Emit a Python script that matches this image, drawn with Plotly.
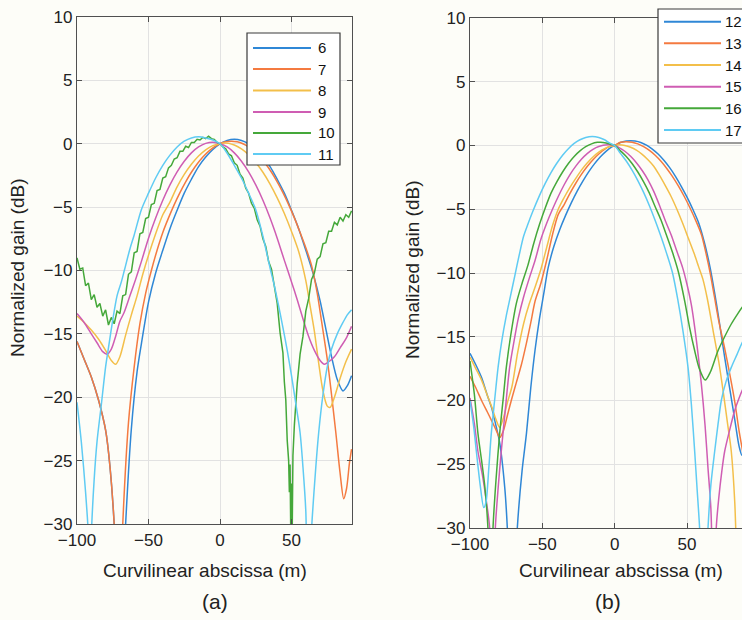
import plotly.graph_objects as go

# ---------------- data : panel (a) ----------------
a_names = ["6", "7", "8", "9", "10", "11"]

a6_x = [-100,-95,-90,-85,-80,-77,-74,-70,-66,-62,-58,-55,-50,-45,-40,-35,-30,-25,-20,-15,-10,-5,0,5,10,15,20,25,30,35,40,45,50,55,60,65,70,74,78,82,86,89,92]
a6_y = [-15.6,-17.0,-18.4,-20.2,-22.6,-25.4,-30.0,-40,-30,-22.5,-18.0,-15.8,-12.5,-10.2,-8.4,-6.7,-5.25,-3.9,-2.8,-1.8,-1.05,-0.45,0,0.26,0.35,0.26,0,-0.45,-1.05,-1.8,-2.8,-3.9,-5.25,-6.7,-8.4,-10.2,-12.4,-14.6,-16.8,-18.6,-19.5,-19.1,-18.3]

a7_x = [-100,-95,-90,-85,-80,-77,-74,-71,-68,-64,-60,-56,-52,-48,-44,-40,-36,-32,-28,-24,-20,-16,-12,-8,-4,0,4,8,12,16,20,24,28,32,36,40,44,48,52,56,60,64,68,71,75,78,81,84,86.5,88.5,90.5,92]
a7_y = [-15.6,-17.0,-18.4,-20.2,-22.6,-25.4,-30,-40,-30,-22,-17.6,-14.2,-11.8,-10.0,-8.4,-7.0,-5.85,-4.8,-3.85,-3.0,-2.25,-1.6,-1.05,-0.6,-0.25,0,0.15,0.2,0.15,0,-0.25,-0.6,-1.05,-1.6,-2.25,-3.0,-3.85,-4.8,-5.85,-7.0,-8.2,-9.6,-11.8,-14.0,-17.0,-19.8,-22.8,-26.0,-28.0,-27.2,-25.2,-24.1]

a8_x = [-100,-95,-90,-85,-80,-76,-73,-70,-66,-62,-58,-54,-50,-45,-40,-37,-35,-30,-25,-20,-15,-10,-5,0,3,6,10,15,20,25,30,35,40,45,50,55,60,63,66,69,72,75,77,80,84,88,92]
a8_y = [-13.6,-14.1,-14.7,-15.4,-16.3,-17.1,-17.4,-16.8,-15.1,-13.5,-12.0,-10.3,-8.8,-7.1,-5.6,-5.0,-4.6,-3.4,-2.42,-1.62,-0.97,-0.48,-0.15,0,0.05,0.03,-0.10,-0.40,-0.86,-1.48,-2.25,-3.18,-4.27,-5.5,-6.92,-8.5,-10.8,-12.8,-14.8,-17.3,-19.5,-20.7,-20.8,-20.0,-18.5,-17.2,-16.2]

a9_x = [-100,-95,-90,-86,-82,-79,-76,-73,-70,-67,-63,-59,-55,-50,-45,-40,-35,-30,-25,-20,-15,-10,-5,0,5,10,15,20,25,30,35,40,45,50,54,58,62,66,70,73,76,80,84,88,92]
a9_y = [-13.4,-14.1,-15.0,-15.7,-16.4,-16.6,-16.2,-15.2,-14.0,-13.3,-12.0,-10.7,-9.3,-7.45,-5.86,-4.46,-3.25,-2.22,-1.38,-0.72,-0.25,0.03,0.12,0,-0.25,-0.72,-1.38,-2.22,-3.25,-4.46,-5.86,-7.45,-9.2,-10.9,-12.3,-13.8,-15.2,-16.3,-17.1,-17.4,-17.2,-16.8,-16.1,-15.4,-14.4]

a10_x = sorted(set(list(range(-100, 46, 2)) + [45,46,47,48,48.5,49,49.5,50,50.5,51,52,53,54] + list(range(56, 94, 2))))
a10_y_left = [-9.0,-9.9,-9.8,-11.2,-11.0,-12.3,-11.9,-12.9,-12.6,-13.6,
              -13.1,-14.3,-13.7,-14.2,-13.2,-13.4,-12.0,-11.9,-10.3,-10.1,
              -8.6,-8.5,-7.1,-7.0,-5.9,-5.8,-4.8,-4.7,-3.7,-3.6,
              -2.7,-2.6,-1.9,-1.7,-1.2,-1.1,-0.6,-0.6,-0.2,-0.3,
              0.1,0.1,0.35,0.3,0.5,0.4,0.6,0.4,0.35,0.1,
              0,-0.25,-0.4,-0.8,-0.95,-1.5,-1.7,-2.4,-2.7,-3.5,
              -3.9,-4.7,-5.1,-6.0,-6.5,-7.5,-8.1,-9.3,-9.9,-11.4,
              -12.6,-14.9,-16.5]
a10_y_null = [-18.8,-20.2,-23.4,-25.0,-27.5,-25.3,-31,-26.8,-30.5,-24.6,-22.2,-20.1,-18.9]
a10_y_right = [-16.6,-15.2,-13.2,-12.2,-10.7,-10.2,-9.1,-8.9,-7.9,-7.8,-6.9,-6.9,-6.2,-6.4,-5.8,-6.1,-5.6,-5.8,-5.3]
a10_y = a10_y_left + a10_y_null + a10_y_right

a11_x = [-100,-97,-94,-92,-91,-90,-88,-86,-83,-80,-78,-75,-72,-69,-66.9,-63,-60,-55,-50,-45,-40,-35,-30,-25,-20,-15,-10,-5,0,5,10,15,20,25,30,35,38,41,44,47,50,53,56,58,60,61.5,63,64.5,67,69,72,75,78,82,86,89,92]
a11_y = [-20.4,-23.5,-27.5,-31,-38,-31,-26.5,-23.5,-20.6,-17.6,-16.1,-13.9,-12.0,-10.9,-10.0,-8.3,-7.2,-5.2,-3.9,-2.7,-1.7,-0.9,-0.25,0.2,0.46,0.55,0.46,0.3,0,-0.75,-1.7,-2.7,-3.9,-5.2,-7.3,-9.8,-11.2,-12.8,-14.5,-16.3,-18.3,-20.5,-22.8,-25.5,-29,-38,-33,-29.5,-25.5,-22.8,-19.8,-17.6,-16.2,-15.0,-14.1,-13.5,-13.1]

# ---------------- data : panel (b) ----------------
b_names = ["12", "13", "14", "15", "16", "17"]

b12_x = [-100,-96,-92,-88,-85,-82,-79.5,-76,-74.2,-71,-67.3,-64,-61,-58,-55,-52,-49,-46,-42,-38,-34,-30,-26,-22,-18,-14,-10,-6,-2,0,4,8,11,14,18,22,26,30,34,38,42,46,50,54,58,62,66,69,72,76,80,83,86,88,90,92]
b12_y = [-16.3,-17.2,-18.2,-19.6,-20.6,-22.0,-23.3,-26.8,-30,-40,-30,-25.5,-22.6,-19.0,-16.0,-13.6,-11.6,-9.6,-7.9,-6.6,-5.5,-4.5,-3.6,-2.8,-2.07,-1.44,-0.9,-0.46,-0.11,0,0.24,0.35,0.38,0.35,0.24,0.03,-0.28,-0.67,-1.16,-1.74,-2.42,-3.2,-4.05,-5.0,-6.05,-7.6,-9.6,-11.5,-13.6,-16.6,-19.4,-21.5,-23.6,-24.3,-23.8,-23.0]

b13_x = [-100,-96,-92,-88,-85,-82,-79.5,-77,-74,-71,-68,-64.5,-61,-58,-55,-51,-47,-43,-39,-35,-31,-27,-23,-19,-15,-11,-7,-3,0,4,8,12,16,20,24,28,32,36,40,44,48,52,56,60,63,66,69,72,76,80,83,86,88,90,92]
b13_y = [-18.1,-19.0,-20.0,-20.9,-21.6,-22.3,-22.9,-22.4,-21.1,-19.8,-18.6,-17.2,-15.5,-13.9,-12.2,-10.8,-9.0,-7.0,-5.4,-4.65,-3.77,-2.98,-2.27,-1.65,-1.12,-0.67,-0.3,-0.05,0,0.26,0.3,0.26,0.13,-0.09,-0.39,-0.77,-1.24,-1.8,-2.44,-3.17,-3.98,-4.88,-5.87,-7.0,-8.4,-10.0,-11.9,-13.8,-15.9,-18.2,-20.1,-22.4,-23.7,-25.0,-26.0]

b14_x = [-100,-96,-92,-88,-85,-82,-79.5,-77,-74,-71,-67,-63,-59,-55,-51,-47,-43,-39,-35,-31,-27,-23,-19,-15,-11,-7,-3,0,3,7,11,15,19,23,27,31,35,39,43,47,51,55,58,61,64,68,72,75,78,80.6,83,85,87]
b14_y = [-16.6,-17.5,-18.4,-19.6,-20.5,-21.5,-22.1,-21.4,-20.1,-18.9,-16.2,-14.0,-12.4,-11.1,-9.7,-8.0,-6.3,-5.0,-4.1,-3.3,-2.6,-1.93,-1.37,-0.9,-0.52,-0.24,-0.06,0,0.05,0,-0.14,-0.37,-0.7,-1.12,-1.63,-2.35,-3.15,-4.0,-5.0,-6.1,-7.3,-8.5,-9.5,-10.5,-12.0,-14.5,-17.0,-19.3,-21.8,-24.0,-28.0,-35,-40]

b15_x = [-100,-97,-94.5,-91.5,-88.7,-86.4,-84.5,-82.5,-80.5,-78.4,-75.5,-72.6,-69.5,-66.5,-63,-59,-55,-51,-47,-43,-39,-35,-31,-27,-23,-19,-15,-11,-5,0,3,7,11,15,19,23,27,31,35,39,43,47,50,53,56.5,59.9,62.5,64.5,66.5,68.8,70.2,72,74,76,79.5,82.9,86,89,92]
b15_y = [-19.8,-21.8,-24.0,-25.8,-27.9,-30,-38,-30,-26.8,-24,-20.6,-17.4,-15.3,-13.5,-11.9,-10.4,-9.0,-7.35,-6.1,-5.0,-4.0,-3.1,-2.3,-1.64,-1.08,-0.64,-0.3,-0.08,0.05,0,-0.17,-0.45,-0.85,-1.35,-1.96,-2.69,-3.6,-4.7,-5.9,-7.0,-8.3,-9.6,-10.9,-12.5,-15.3,-18.7,-22,-25.3,-28.5,-38,-30,-27.6,-25.6,-24,-22.3,-20.8,-19.8,-19.0,-18.4]

b16_x = [-100,-97,-94.5,-92,-89.9,-87.6,-86,-84.1,-82,-79.5,-77,-74.9,-72,-68,-64,-60,-56,-52,-48,-44,-40,-36,-32,-28,-24,-20,-16,-12,-10,-6,-3,0,4,8,12,16,20,24,28,32,36,40,44,48.4,52,55.3,58.5,62.6,66,71.4,76,80.6,85,88,92]
b16_y = [-16.9,-19.5,-22.6,-24.7,-26.6,-30,-38,-30,-26.2,-22.6,-19.8,-17.4,-15.0,-12.4,-10.8,-9.4,-7.7,-6.2,-4.9,-3.74,-2.85,-2.08,-1.41,-0.86,-0.42,-0.09,0.13,0.25,0.26,0.2,0.1,0,-0.42,-0.86,-1.41,-2.08,-2.85,-3.74,-4.8,-5.84,-7.1,-8.4,-9.9,-12.2,-14.4,-16.1,-17.5,-18.4,-17.8,-16.1,-15.0,-14.0,-13.2,-12.7,-12.1]

b17_x = [-100,-97.5,-95.6,-93,-90.5,-89,-87,-85.3,-83,-80.6,-78,-75,-72,-69,-66,-63,-60,-56.7,-52,-48,-44,-40,-36,-32,-28,-24,-20,-15.5,-11,-7,-3,0,4,8,12,16,20,24,28,32,36,40,43.8,47,50.7,53,55.3,57,58.7,61.5,64.5,66.5,69.1,71.5,73.7,77,80.6,84.5,88,92]
b17_y = [-20.0,-22.0,-24.0,-26.6,-28.4,-28.0,-25.3,-22.6,-20.0,-17.4,-15.3,-13.4,-11.8,-10.2,-8.6,-7.14,-6.18,-5.2,-3.93,-2.97,-2.12,-1.39,-0.76,-0.25,0.16,0.45,0.63,0.7,0.63,0.45,0.16,0,-0.62,-1.22,-1.93,-2.75,-3.68,-4.72,-5.88,-7.14,-8.5,-10.0,-12.2,-14.4,-17.4,-20.3,-24,-27,-30,-38,-30,-26.6,-24,-21.8,-20,-18.5,-17.4,-16.4,-15.5,-14.8]

x_ticks = [-100, -50, 0, 50]
y_ticks = [-30, -25, -20, -15, -10, -5, 0, 5, 10]
x_title = "Curvilinear abscissa (m)"
y_title = "Normalized gain (dB)"

colors = ["#2f87d6", "#f47a40", "#f3bf4a", "#cf5db3", "#45a83a", "#5fcbf3"]

# ---------------- figure ----------------
W, H = 742, 620
def fx(p): return p / W
def fy(p): return 1 - p / H

fig = go.Figure()
series_a = [(a6_x, a6_y), (a7_x, a7_y), (a8_x, a8_y), (a9_x, a9_y), (a10_x, a10_y), (a11_x, a11_y)]
series_b = [(b12_x, b12_y), (b13_x, b13_y), (b14_x, b14_y), (b15_x, b15_y), (b16_x, b16_y), (b17_x, b17_y)]

for (xs, ys), nm, col in zip(series_a, a_names, colors):
    shape = "linear" if nm == "10" else "spline"
    fig.add_trace(go.Scatter(x=xs, y=ys, mode="lines", name=nm,
                             line=dict(color=col, width=1.5, shape=shape, smoothing=0.8),
                             xaxis="x", yaxis="y", showlegend=False))
for (xs, ys), nm, col in zip(series_b, b_names, colors):
    fig.add_trace(go.Scatter(x=xs, y=ys, mode="lines", name=nm,
                             line=dict(color=col, width=1.5, shape="spline", smoothing=0.8),
                             xaxis="x2", yaxis="y2", showlegend=False))

FONT = "Liberation Sans, Arial, sans-serif"
tickfont = dict(family=FONT, size=17, color="#222222")
common = dict(showgrid=True, gridcolor="#e2e2e2", gridwidth=1, zeroline=False,
              showline=True, linecolor="#505050", linewidth=1.4,
              ticks="inside", ticklen=5, tickwidth=1, tickcolor="#505050",
              tickfont=tickfont)

fig.update_layout(
    width=W, height=H,
    margin=dict(l=0, r=0, t=0, b=0, autoexpand=False),
    paper_bgcolor="#fdfdf8", plot_bgcolor="#fdfdf8",
    xaxis=dict(domain=[fx(77), fx(352)], range=[-100, 92.3], tickvals=x_ticks,
               anchor="y", mirror="ticks", **common),
    yaxis=dict(domain=[fy(524), fy(17)], range=[-30, 10], tickvals=y_ticks,
               anchor="x", mirror="ticks", **common),
    xaxis2=dict(domain=[fx(470), 1.0], range=[-100, 88], tickvals=x_ticks,
                anchor="y2", mirror="ticks", **common),
    yaxis2=dict(domain=[fy(528), fy(18)], range=[-30, 10], tickvals=y_ticks,
                anchor="x2", mirror=False, **common),
)

# legend boxes (drawn like the original MATLAB legends)
def add_legend(box, rows, line_x, text_x, names):
    x0, y0, x1, y1 = box
    fig.add_shape(type="rect", xref="paper", yref="paper",
                  x0=fx(x0), x1=fx(x1), y0=fy(y1), y1=fy(y0),
                  line=dict(color="#3a3a3a", width=1.2), fillcolor="#ffffff", layer="above")
    for ry, nm, col in zip(rows, names, colors):
        fig.add_shape(type="line", xref="paper", yref="paper",
                      x0=fx(line_x[0]), x1=fx(line_x[1]), y0=fy(ry), y1=fy(ry),
                      line=dict(color=col, width=2), layer="above")
        fig.add_annotation(xref="paper", yref="paper", showarrow=False, text=nm,
                           x=fx(text_x), y=fy(ry), xanchor="left", yanchor="middle",
                           font=dict(family=FONT, size=15, color="#111111"))

add_legend((247, 33, 340, 165), [48, 69, 90.5, 112, 133, 154], (253, 311), 316, a_names)
add_legend((658, 9, 790, 143), [21.7, 43.3, 65, 86.7, 108.3, 130], (664, 721), 723, b_names)

title_font = dict(family=FONT, size=19, color="#222222")
ann = [
    dict(text=x_title, x=fx(205), y=fy(570), xanchor="center", yanchor="middle"),
    dict(text=x_title, x=fx(621), y=fy(570), xanchor="center", yanchor="middle"),
    dict(text=y_title, x=fx(17), y=fy(268), xanchor="center", yanchor="middle", textangle=-90),
    dict(text=y_title, x=fx(412), y=fy(270), xanchor="center", yanchor="middle", textangle=-90),
]
for a in ann:
    fig.add_annotation(xref="paper", yref="paper", showarrow=False, font=title_font, **a)
for lab, xx in (("(a)", 215), ("(b)", 608)):
    fig.add_annotation(xref="paper", yref="paper", showarrow=False, text=lab,
                       x=fx(xx), y=fy(601), xanchor="center", yanchor="middle",
                       font=dict(family=FONT, size=21, color="#222222"))

fig.write_html("out.html",
               config={"displayModeBar": False},
               post_script="document.body.style.margin='0px';document.body.style.padding='0px';")
